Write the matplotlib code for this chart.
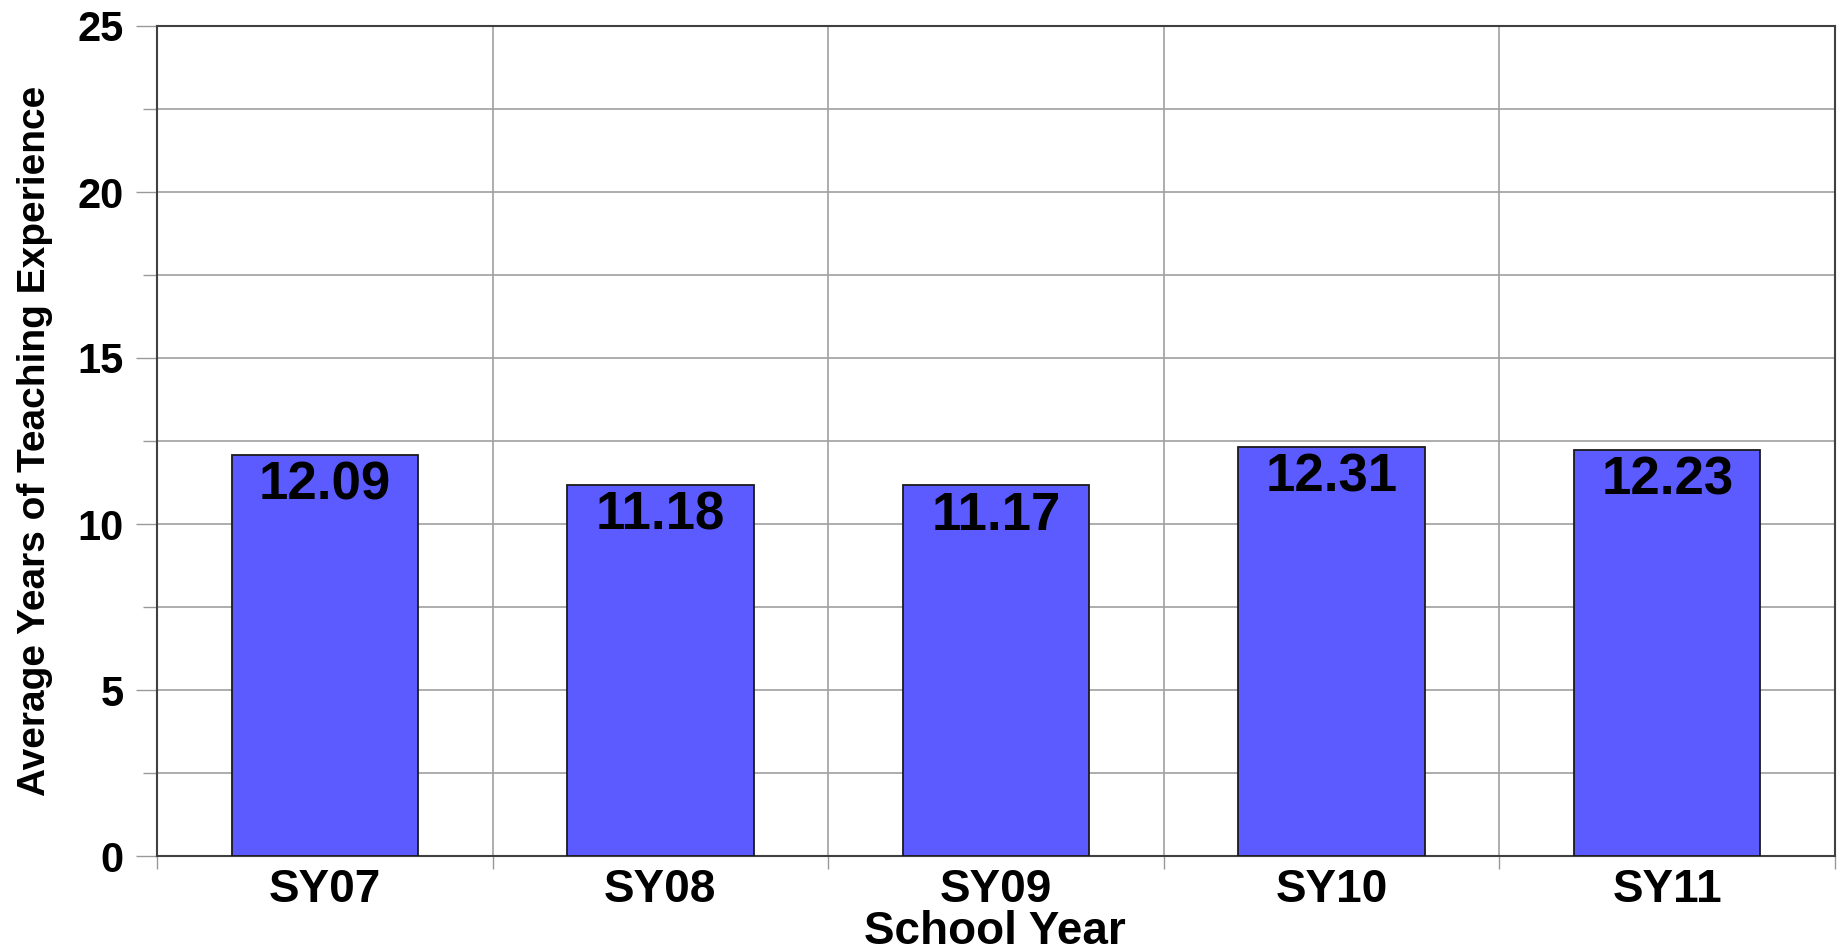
import matplotlib
matplotlib.use("Agg")
import matplotlib.pyplot as plt
import numpy as np

categories = ["SY07", "SY08", "SY09", "SY10", "SY11"]
values = [12.09, 11.18, 11.17, 12.31, 12.23]
value_labels = ["12.09", "11.18", "11.17", "12.31", "12.23"]
yticks = [0, 5, 10, 15, 20, 25]
y_minor = [2.5, 7.5, 12.5, 17.5, 22.5]

plt.rcParams['font.family'] = ['Liberation Sans', 'DejaVu Sans']
plt.rcParams['font.weight'] = 'bold'

fig = plt.figure(figsize=(18.41, 9.51), dpi=100)
ax = fig.add_axes([157/1841, 1 - 856/951, (1835-157)/1841, (856-26)/951])

x = np.arange(len(categories))
bars = ax.bar(x, values, width=0.555, color='#5B5BFF', edgecolor='#1a1a1a',
              linewidth=1.3, zorder=3)

for xi, v, lab in zip(x, values, value_labels):
    ax.annotate(lab, (xi, v), xytext=(0, -22), textcoords='offset points',
                ha='center', va='center', fontsize=38, fontweight='bold',
                color='black', zorder=4)

ax.set_xlim(-0.5, len(categories) - 0.5)
ax.set_ylim(0, 25)

ax.set_yticks(yticks)
ax.set_yticklabels([str(t) for t in yticks])
ax.set_yticks(y_minor, minor=True)
ax.tick_params(axis='y', which='major', length=15, width=1, color='#999999',
               labelsize=30, pad=9, direction='out')
ax.tick_params(axis='y', which='minor', length=10, width=1, color='#999999',
               direction='out')

ax.set_xticks(x)
ax.set_xticklabels(categories)
ax.set_xticks(np.arange(len(categories) + 1) - 0.5, minor=True)
ax.tick_params(axis='x', which='major', length=0, labelsize=33, pad=9)
ax.tick_params(axis='x', which='minor', length=9, width=1, color='#999999',
               direction='out')

ax.grid(True, which='both', axis='y', color='#a0a0a0', linewidth=1.2, zorder=0)
ax.grid(True, which='minor', axis='x', color='#a0a0a0', linewidth=1.2, zorder=0)
ax.grid(False, which='major', axis='x')

for s in ['left', 'bottom', 'top', 'right']:
    ax.spines[s].set_color('#404040')
    ax.spines[s].set_linewidth(1.5)

ax.set_ylabel("Average Years of Teaching Experience", fontsize=28,
              fontweight='bold')
ax.yaxis.set_label_coords(-0.062, 0.5)
fig.text(995/1841, 1 - 944/951, "School Year", ha='center', va='baseline',
         fontsize=33, fontweight='bold')

fig.savefig("out.png", dpi=100, facecolor='white')
